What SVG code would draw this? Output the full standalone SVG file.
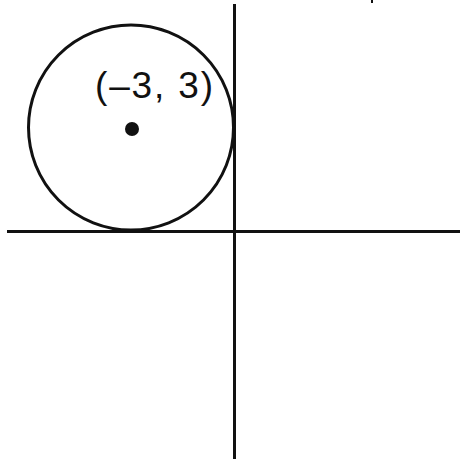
<svg xmlns="http://www.w3.org/2000/svg" width="460" height="459" viewBox="0 0 460 459">
<style>
.ax{stroke:#111;stroke-width:3;fill:none}
.lbl{font-family:"Liberation Sans",Arial,sans-serif;font-size:37px;fill:#111}
</style>
<rect width="460" height="459" fill="#fff"/>
<g id="axes" class="ax">
<line x1="234.5" y1="4" x2="234.5" y2="459"/>
<line x1="7" y1="231.5" x2="460" y2="231.5"/>
<line x1="372" y1="0" x2="372" y2="3" stroke-width="2"/>
</g>
<g id="circle">
<circle cx="131" cy="127.5" r="102.5" class="ax"/>
</g>
<g id="center">
<circle cx="132" cy="129" r="7" fill="#111"/>
<text class="lbl" x="95" y="98" textLength="118" lengthAdjust="spacing">(–3, 3)</text>
</g>
</svg>
